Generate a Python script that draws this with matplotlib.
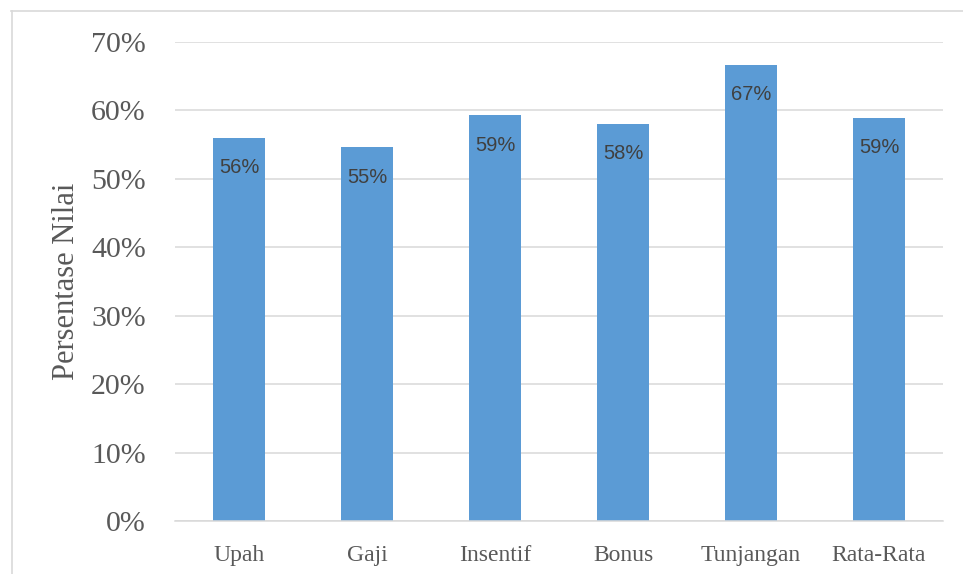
import matplotlib.pyplot as plt
from matplotlib.lines import Line2D

categories = ['Upah', 'Gaji', 'Insentif', 'Bonus', 'Tunjangan', 'Rata-Rata']
values = [0.560, 0.546, 0.593, 0.580, 0.667, 0.589]
labels = ['56%', '55%', '59%', '58%', '67%', '59%']
yticks = [0, 0.1, 0.2, 0.3, 0.4, 0.5, 0.6, 0.7]
ytick_labels = ['0%', '10%', '20%', '30%', '40%', '50%', '60%', '70%']

W, H = 963, 574
fig = plt.figure(figsize=(W / 100, H / 100), dpi=100)
ax = fig.add_axes([175 / W, 1 - 521 / H, 768 / W, 479 / H])

x = range(len(categories))
bars = ax.bar(x, values, width=0.4, color='#5B9BD5', zorder=2)

for b, lab in zip(bars, labels):
    ax.annotate(lab, (b.get_x() + b.get_width() / 2, b.get_height()),
                xytext=(0, -21.5), textcoords='offset points',
                ha='center', va='center', fontsize=14.5,
                family='Liberation Sans', color='#404040', zorder=3)

ax.set_xlim(-0.5, len(categories) - 0.5)
ax.set_ylim(0, 0.7)
ax.set_yticks(yticks)
ax.set_yticklabels(ytick_labels, family='Liberation Serif', fontsize=21.5, color='#595959')
ax.set_xticks(list(x))
ax.set_xticklabels(categories, family='Liberation Serif', fontsize=17, color='#595959')
ax.tick_params(axis='both', length=0)
ax.tick_params(axis='y', pad=21)
ax.tick_params(axis='x', pad=17)

ax.yaxis.grid(True, color='#D9D9D9', linewidth=1.1, zorder=0)
ax.set_axisbelow(True)
for s in ['top', 'right', 'left']:
    ax.spines[s].set_visible(False)
ax.spines['bottom'].set_color('#D9D9D9')
ax.spines['bottom'].set_linewidth(1.1)

ax.set_ylabel('Persentase Nilai', family='Liberation Serif', fontsize=22, color='#595959', labelpad=7)

# outer frame (only top and left visible in reference)
fig.add_artist(Line2D([11 / W, 1], [1 - 10.5 / H, 1 - 10.5 / H], color='#D9D9D9', lw=1.2))
fig.add_artist(Line2D([11.5 / W, 11.5 / W], [0, 1 - 10.5 / H], color='#D9D9D9', lw=1.2))

fig.savefig('out.png', dpi=100)
